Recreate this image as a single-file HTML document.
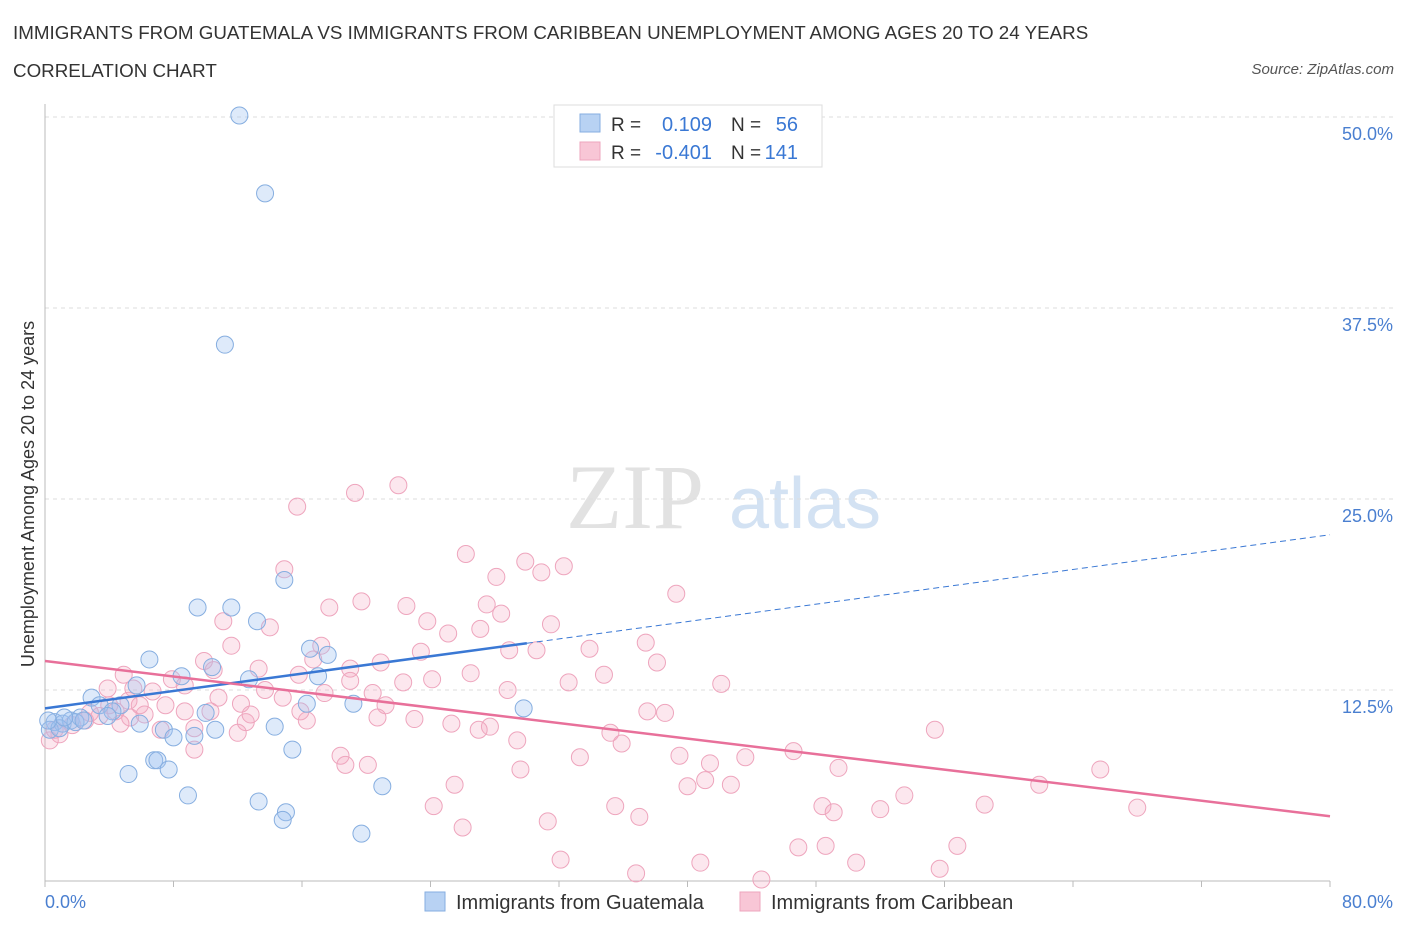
<!DOCTYPE html>
<html><head><meta charset="utf-8"><style>
body{margin:0;background:#fff;font-family:"Liberation Sans",sans-serif;}
#wrap{position:relative;width:1406px;height:930px;overflow:hidden;}
.t{position:absolute;white-space:nowrap;}
</style></head><body>
<div id="wrap">
<div class="t" style="left:13px;top:22px;font-size:18.8px;color:#333;">IMMIGRANTS FROM GUATEMALA VS IMMIGRANTS FROM CARIBBEAN UNEMPLOYMENT AMONG AGES 20 TO 24 YEARS</div>
<div class="t" style="left:13px;top:60px;font-size:18.8px;color:#333;">CORRELATION CHART</div>
<div class="t" style="right:12px;top:61px;font-size:15px;color:#555;font-style:italic;">Source: ZipAtlas.com</div>
<svg id="chart" width="1406" height="930" style="position:absolute;left:0;top:0"></svg>
</div>
<script>
const xTicks=[0,8,16,24,32,40,48,56,64,72,80];
const yTicks=[12.5,25,37.5,50];
const yTickLabels=["12.5%","25.0%","37.5%","50.0%"];
const blueX=[12.1,13.7,11.2,14.9,9.5,11.6,13.2,16.5,17.6,6.5,10.4,8.5,5.7,12.7,17.0,16.3,19.2,29.8,2.9,3.4,4.7,4.2,10.0,5.9,7.4,8.0,9.3,10.6,14.3,15.4,6.8,7.0,7.7,5.2,8.9,21.0,13.3,15.0,14.8,19.7,0.6,1.1,1.6,2.2,0.3,0.9,1.9,2.4,3.9,0.2,1.2];
const blueY=[50.1,45.0,35.1,19.7,17.9,17.9,17.0,15.2,14.8,14.5,14.0,13.4,12.8,13.2,13.4,11.6,11.6,11.3,12.0,11.5,11.5,11.1,11.0,10.3,9.9,9.4,9.5,9.9,10.1,8.6,7.9,7.9,7.3,7.0,5.6,6.2,5.2,4.5,4.0,3.1,10.4,10.3,10.5,10.7,9.9,10.0,10.4,10.5,10.8,10.5,10.7];
const pinkX=[15.7,19.3,22.0,14.9,26.2,29.9,32.3,30.9,28.1,39.3,19.7,22.5,17.7,27.5,11.1,14.0,23.8,31.5,25.1,27.1,28.4,37.4,33.9,11.6,9.9,16.7,17.2,20.9,23.4,19.0,28.9,30.6,38.1,4.9,7.9,10.5,13.3,15.8,19.0,20.4,26.5,34.8,42.1,28.8,32.6,22.3,24.1,3.9,5.5,6.7,8.7,10.8,12.2,14.8,17.4,13.7,21.2,23.0,20.7,25.3,27.7,27.0,29.4,35.2,35.9,37.5,38.6,55.4,12.5,12.0,9.3,7.2,9.3,18.4,18.7,20.1,29.6,33.3,39.5,41.4,43.6,46.6,49.4,65.7,41.1,40.0,42.7,24.2,25.5,35.5,37.0,48.4,49.1,52.0,53.5,58.5,61.9,68.0,26.0,31.3,32.1,36.8,40.8,44.6,46.9,48.6,50.5,55.7,56.8,3.4,4.4,5.3,6.2,2.5,1.7,2.8,4.7,5.9,5.2,0.9,0.3,0.6,4.0,7.5,8.7,10.3,15.9,16.3,12.8];
const pinkY=[24.5,25.4,25.9,20.4,21.4,20.9,20.6,20.2,19.9,18.8,18.3,18.0,17.9,18.1,17.0,16.6,17.0,16.8,16.2,16.5,17.5,15.6,15.2,15.4,14.4,14.5,15.4,14.3,15.0,13.9,15.1,15.1,14.3,13.5,13.2,13.8,13.9,13.5,13.1,12.3,13.6,13.5,12.9,12.5,13.0,13.0,13.2,12.6,12.6,12.4,12.8,12.0,11.6,12.0,12.3,12.5,11.5,10.6,10.7,10.3,10.1,9.9,9.2,9.7,9.0,11.1,11.0,9.9,10.4,9.7,10.0,9.9,8.6,8.2,7.6,7.6,7.3,8.1,8.2,7.7,8.1,8.5,7.4,7.3,6.6,6.2,6.3,4.9,6.3,4.9,4.2,4.9,4.5,4.7,5.6,5.0,6.3,4.8,3.5,3.9,1.4,0.5,1.2,0.1,2.2,2.3,1.2,0.8,2.3,10.8,11.1,10.7,10.9,10.5,10.2,11.0,10.3,11.5,11.8,9.6,9.2,9.9,11.5,11.5,11.1,11.1,11.1,10.5,10.9];
const blueTrend=[11.3,0.142];
const pinkTrend=[14.4,-0.127];
const blueSolidEnd=30;

const X0=45,X1=1330,Y0=881,YPX=191/12.5;
const sx=v=>X0+(v/80)*(X1-X0);
const sy=v=>Y0-v*YPX;
const svg=document.getElementById('chart');
const NS='http://www.w3.org/2000/svg';
function mk(tag,attrs,parent){const e=document.createElementNS(NS,tag);for(const k in attrs)e.setAttribute(k,attrs[k]);(parent||svg).appendChild(e);return e;}

let w1=mk('text',{x:635,y:528,'font-size':92,'font-family':'Liberation Serif',fill:'#e2e2e2','text-anchor':'middle'});w1.textContent='ZIP';


let w2=mk('text',{x:805,y:528,'font-size':72,'font-family':'Liberation Sans',fill:'#d3e2f3','text-anchor':'middle'});w2.textContent='atlas';



yTicks.forEach((t,i)=>{
 const l=mk('line',{x1:X0,x2:1395,y1:sy(t),y2:sy(t),stroke:'#dddddd','stroke-dasharray':'4,4'});
 
 
 const tx=mk('text',{x:1393,y:sy(t)+23,'font-size':18,fill:'#4a7fd0','text-anchor':'end'});tx.textContent=yTickLabels[i];
 
 
});
let ax=mk('line',{x1:X0,x2:X1,y1:Y0,y2:Y0,stroke:'#bbb'});


let ay=mk('line',{x1:X0,x2:X0,y1:104,y2:Y0,stroke:'#bbb'});


xTicks.forEach(t=>{
 const l=mk('line',{x1:sx(t),x2:sx(t),y1:Y0,y2:Y0+6,stroke:'#bbb'});
 
 
});
let xl0=mk('text',{x:45,y:908,'font-size':18,fill:'#4a7fd0'});xl0.textContent='0.0%';


let xl1=mk('text',{x:1393,y:908,'font-size':18,fill:'#4a7fd0','text-anchor':'end'});xl1.textContent='80.0%';


let yt=mk('text',{x:34,y:494,'font-size':18,fill:'#333','text-anchor':'middle',transform:'rotate(-90 34 494)'});yt.textContent='Unemployment Among Ages 20 to 24 years';



pinkX.forEach((x,i)=>{
 const c=mk('circle',{cx:sx(x),cy:sy(pinkY[i]),r:8.5,fill:'rgba(245,170,195,0.28)',stroke:'#eea5bd','stroke-width':1});
 
 
});
blueX.forEach((x,i)=>{
 const c=mk('circle',{cx:sx(x),cy:sy(blueY[i]),r:8.5,fill:'rgba(160,195,240,0.35)',stroke:'#86aee0','stroke-width':1});
 
 
});
let bt=mk('line',{x1:sx(0),y1:sy(blueTrend[0]),x2:sx(blueSolidEnd),y2:sy(blueTrend[0]+blueTrend[1]*blueSolidEnd),stroke:'#3a78d4','stroke-width':2.5});


let bd=mk('line',{x1:sx(blueSolidEnd),y1:sy(blueTrend[0]+blueTrend[1]*blueSolidEnd),x2:sx(80),y2:sy(blueTrend[0]+blueTrend[1]*80),stroke:'#3a78d4','stroke-width':1,'stroke-dasharray':'6,4'});


let pt=mk('line',{x1:sx(0),y1:sy(pinkTrend[0]),x2:sx(80),y2:sy(pinkTrend[0]+pinkTrend[1]*80),stroke:'#e8709a','stroke-width':2.5});



let lg=mk('g',{});


mk('rect',{x:554,y:105,width:268,height:62,fill:'#fff',stroke:'#ddd'},lg);
mk('rect',{x:580,y:114,width:20,height:18,fill:'#b8d2f3',stroke:'#86aee0'},lg);
mk('rect',{x:580,y:142,width:20,height:18,fill:'#f8c6d6',stroke:'#eea5bd'},lg);
[[131,'0.109','56'],[159,'-0.401','141']].forEach(r=>{
 let a=mk('text',{x:611,y:r[0],'font-size':19,fill:'#333'},lg);a.textContent='R = ';
 let b=mk('text',{x:712,y:r[0],'font-size':20,fill:'#3a78d4','text-anchor':'end'},lg);b.textContent=r[1];
 let c=mk('text',{x:731,y:r[0],'font-size':19,fill:'#333'},lg);c.textContent='N =';
 let d=mk('text',{x:798,y:r[0],'font-size':20,fill:'#3a78d4','text-anchor':'end'},lg);d.textContent=r[2];
});
let bl=mk('g',{});


mk('rect',{x:425,y:892,width:20,height:19,fill:'#b8d2f3',stroke:'#86aee0'},bl);
let t1=mk('text',{x:456,y:909,'font-size':20,fill:'#333'},bl);t1.textContent='Immigrants from Guatemala';
mk('rect',{x:740,y:892,width:20,height:19,fill:'#f8c6d6',stroke:'#eea5bd'},bl);
let t2=mk('text',{x:771,y:909,'font-size':20,fill:'#333'},bl);t2.textContent='Immigrants from Caribbean';
</script>
</body></html>
